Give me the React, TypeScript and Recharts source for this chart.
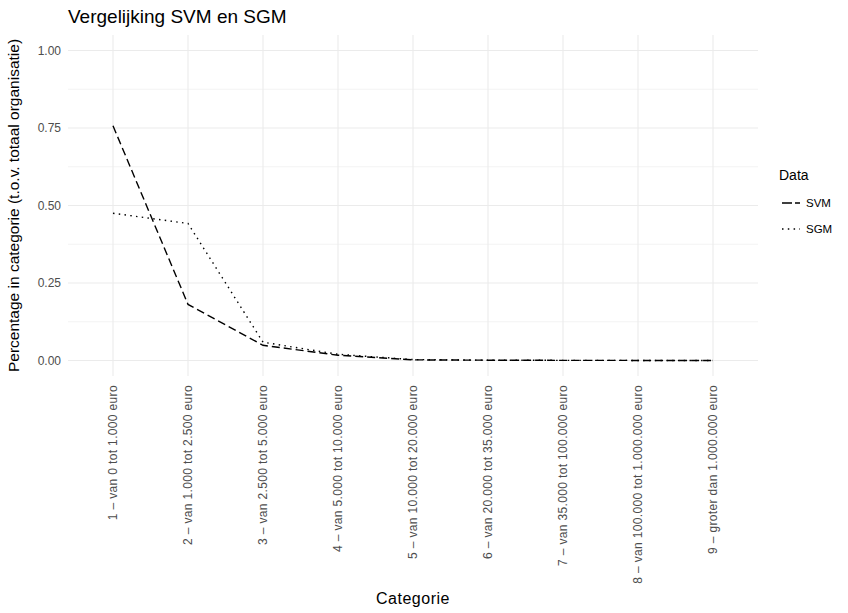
import React from "react";
import { LineChart, Line, XAxis, YAxis, ReferenceLine } from "recharts";

const categories = [
  "1 – van 0 tot 1.000 euro",
  "2 – van 1.000 tot 2.500 euro",
  "3 – van 2.500 tot 5.000 euro",
  "4 – van 5.000 tot 10.000 euro",
  "5 – van 10.000 tot 20.000 euro",
  "6 – van 20.000 tot 35.000 euro",
  "7 – van 35.000 tot 100.000 euro",
  "8 – van 100.000 tot 1.000.000 euro",
  "9 – groter dan 1.000.000 euro",
];
const svmValues = [0.757, 0.181, 0.049, 0.017, 0.002, 0.001, 0.0005, 0.0002, 0.0001];
const sgmValues = [0.475, 0.442, 0.059, 0.02, 0.003, 0.001, 0.0005, 0.0002, 0.0001];
const yTicks = [0, 0.25, 0.5, 0.75, 1];
const yMinor = [0.125, 0.375, 0.625, 0.875];
const seriesNames = ["SVM", "SGM"];

const data = categories.map((c, i) => ({ cat: c, SVM: svmValues[i], SGM: sgmValues[i] }));

const FONT = "'Liberation Sans', Arial, Helvetica, sans-serif";
const DASH = "8 4";
const DOT = "1.5 4.3";
const GRID = "#ebebeb";

const XTick = (props: any) => {
  const { x, y, payload } = props;
  const ty = y + 7;
  return (
    <text
      x={x}
      y={ty}
      transform={`rotate(-90, ${x}, ${ty})`}
      textAnchor="end"
      dy="0.35em"
      fontSize={12}
      letterSpacing={0.35}
      fill="#4d4d4d"
      fontFamily={FONT}
    >
      {payload.value}
    </text>
  );
};

const YTick = (props: any) => {
  const { x, y, payload } = props;
  return (
    <text x={x} y={y} textAnchor="end" dy="0.35em" fontSize={12} fill="#4d4d4d" fontFamily={FONT}>
      {payload.value.toFixed(2)}
    </text>
  );
};

const LegendBox = () => (
  <div style={{ position: "absolute", left: 779, top: 166, fontFamily: FONT, color: "#000" }}>
    <div style={{ fontSize: 14, lineHeight: "18px", marginBottom: 6 }}>Data</div>
    {seriesNames.map((name, i) => (
      <div key={name} style={{ display: "flex", alignItems: "center", height: 26 }}>
        <svg width={24} height={10} style={{ marginRight: 3 }}>
          <line
            x1={3}
            y1={5}
            x2={21}
            y2={5}
            stroke="#000"
            strokeWidth={1.4}
            strokeDasharray={i === 0 ? "10 3" : DOT}
          />
        </svg>
        <span style={{ fontSize: 11.5 }}>{name}</span>
      </div>
    ))}
  </div>
);

export default function App() {
  return (
    <div style={{ position: "absolute", left: 0, top: 0, width: 848, height: 613, background: "#fff" }}>
      <div
        style={{
          position: "absolute",
          left: 68,
          top: 7,
          fontFamily: FONT,
          fontSize: 19,
          lineHeight: "19px",
          color: "#000",
          whiteSpace: "nowrap",
        }}
      >
        Vergelijking SVM en SGM
      </div>
      <LineChart width={848} height={613} data={data} margin={{ top: 35, right: 90, bottom: 0, left: 0 }}>
        {yMinor.map((v) => (
          <ReferenceLine key={"m" + v} y={v} stroke={GRID} strokeWidth={0.6} />
        ))}
        {yTicks.map((v) => (
          <ReferenceLine key={"y" + v} y={v} stroke={GRID} strokeWidth={1.1} />
        ))}
        {categories.map((c) => (
          <ReferenceLine key={"x" + c} x={c} stroke={GRID} strokeWidth={1.1} />
        ))}
        <XAxis
          dataKey="cat"
          height={237}
          padding={{ left: 45, right: 45 }}
          axisLine={false}
          tickLine={false}
          tickSize={0}
          tick={<XTick />}
          interval={0}
          label={{
            value: "Categorie",
            position: "insideBottom",
            offset: 9,
            fontSize: 16,
            letterSpacing: 0.5,
            fill: "#000",
            fontFamily: FONT,
          }}
        />
        <YAxis
          width={68}
          domain={[-0.05, 1.05]}
          ticks={yTicks}
          axisLine={false}
          tickLine={false}
          tickSize={0}
          tickMargin={7}
          tick={<YTick />}
          label={{
            value: "Percentage in categorie (t.o.v. totaal organisatie)",
            angle: -90,
            position: "insideLeft",
            offset: 13,
            style: { textAnchor: "middle" },
            fontSize: 15.5,
            fill: "#000",
            fontFamily: FONT,
          }}
        />
        <Line
          dataKey="SVM"
          stroke="#000"
          strokeWidth={1.4}
          strokeDasharray={DASH}
          dot={false}
          activeDot={false}
          isAnimationActive={false}
        />
        <Line
          dataKey="SGM"
          stroke="#000"
          strokeWidth={1.4}
          strokeDasharray={DOT}
          dot={false}
          activeDot={false}
          isAnimationActive={false}
        />
      </LineChart>
      <LegendBox />
    </div>
  );
}
